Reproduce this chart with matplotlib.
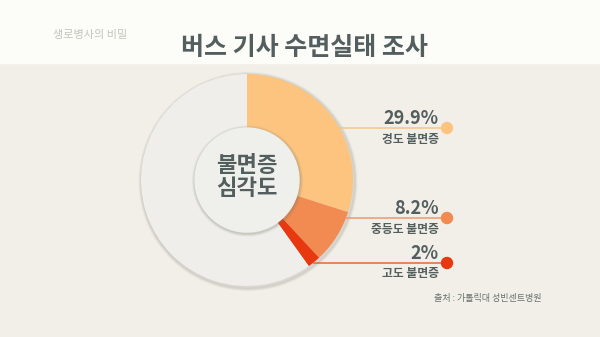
import matplotlib.pyplot as plt
from matplotlib.patches import Circle, Rectangle

plt.rcParams["font.family"] = ["Noto Sans CJK KR", "DejaVu Sans"]

# data
labels = ["경도 불면증", "중등도 불면증", "고도 불면증"]
values = [29.9, 8.2, 2.0]
pct_text = ["29.9%", "8.2%", "2%"]
colors = ["#fcc47f", "#f18b52", "#e8380f"]
line_colors = ["#f7c48a", "#ef9a6a", "#e2693a"]
rest_color = "#efeeea"

title = "버스 기사 수면실태 조사"
center_text = "불면증\n심각도"
source = "출처 : 가톨릭대 성빈센트병원"
watermark = "생로병사의 비밀"

W, H = 600, 337
TEXT = "#535e5e"

fig = plt.figure(figsize=(W / 100, H / 100), dpi=100)
ax = fig.add_axes([0, 0, 1, 1])

# backgrounds
fig.patch.set_facecolor("#f1efe7")
ax.add_patch(Rectangle((0, H - 63), W, 63, color="#fcfcf8", zorder=0))

cx, cy = 247, H - 180
R, r = 106, 52

# soft shadow around the ring
for k, a in [(3.0, 0.05), (2.0, 0.08), (1.0, 0.12)]:
    ax.add_patch(Circle((cx + 1, cy - 1.5), R + k, color="#8a8a80", alpha=a, zorder=1))

ax.pie(values + [100 - sum(values)], colors=colors + [rest_color],
       startangle=90, counterclock=False, radius=R, center=(cx, cy),
       wedgeprops=dict(width=R - r, linewidth=0), frame=True)
ax.set_xlim(0, W)
ax.set_ylim(0, H)
ax.set_aspect("equal")
ax.axis("off")

ax.text(304, H - 48, title, ha="center", va="center", fontsize=18,
        fontweight="bold", color=TEXT)
ax.text(90, H - 35, watermark, ha="center", va="center", fontsize=8,
        color="#c4c4bc", style="italic")

# inner disc with shadow
for k, a in [(3.0, 0.05), (2.0, 0.08), (1.0, 0.14)]:
    ax.add_patch(Circle((cx + 0.5, cy - 1), r + k, color="#7a7a70", alpha=a, zorder=3))
ax.add_patch(Circle((cx, cy), r, color="#efefeb", zorder=4))
ax.text(cx, cy + 3, center_text, ha="center", va="center", fontsize=16,
        fontweight="bold", color=TEXT, linespacing=1.05, zorder=5)

# leader lines, dots and labels
line_y = [128, 218, 263]
line_x0 = [338, 345, 313]
dot_x = 447
text_x = 439
for i, lab in enumerate(labels):
    y = H - line_y[i]
    ax.plot([line_x0[i], dot_x], [y, y], color=line_colors[i], lw=1.1,
            zorder=2, solid_capstyle="butt")
    ax.add_patch(Circle((dot_x, y), 5.5, color=colors[i], zorder=6))
    ax.text(text_x, y + 4, pct_text[i], ha="right", va="baseline", fontsize=13,
            fontweight="bold", color=TEXT)
    ax.text(text_x, y - 11, lab, ha="right", va="center", fontsize=8.5,
            fontweight="bold", color=TEXT)

ax.text(488, H - 299, source, ha="center", va="center", fontsize=6.5,
        color="#6a7070")

fig.savefig("out.png", dpi=100, facecolor=fig.get_facecolor())
